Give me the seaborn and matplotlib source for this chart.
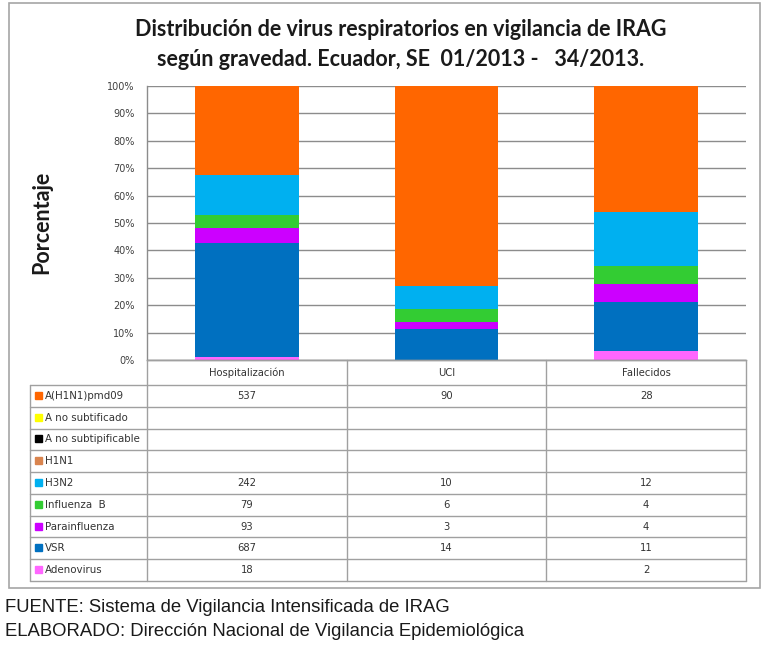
import numpy as np
import pandas as pd
import matplotlib
matplotlib.use("Agg")
import matplotlib.pyplot as plt
import seaborn as sns
from matplotlib.patches import Rectangle

categories = ['Hospitalización', 'UCI', 'Fallecidos']
virus = ['A(H1N1)pmd09', 'A no subtificado', 'A no subtipificable', 'H1N1',
         'H3N2', 'Influenza  B', 'Parainfluenza', 'VSR', 'Adenovirus']
h1n1pdm09 = [537, 90, 28]
a_no_subtificado = [None, None, None]
a_no_subtipificable = [None, None, None]
h1n1 = [None, None, None]
h3n2 = [242, 10, 12]
influenza_b = [79, 6, 4]
parainfluenza = [93, 3, 4]
vsr = [687, 14, 11]
adenovirus = [18, None, 2]
colors = ['#FF6600', '#FFFF00', '#000000', '#D9844E', '#00B0F0',
          '#33CC33', '#CC00FF', '#0070C0', '#FF66FF']

df = pd.DataFrame([h1n1pdm09, a_no_subtificado, a_no_subtipificable, h1n1, h3n2,
                   influenza_b, parainfluenza, vsr, adenovirus],
                  index=virus, columns=categories, dtype=float)
pct = df / df.sum(axis=0) * 100
# cumulative from the bottom series (Adenovirus) upwards
cum = pct.fillna(0).iloc[::-1].cumsum().iloc[::-1]

sns.set_style("white")
plt.rcParams['font.family'] = ['DejaVu Sans']

W, H = 761, 663
fig = plt.figure(figsize=(W / 100, H / 100), dpi=100)

# plot area in pixel terms
px_l, px_r, px_t, px_b = 147, 746, 86, 360
ax = fig.add_axes([px_l / W, 1 - px_b / H, (px_r - px_l) / W, (px_b - px_t) / H])

# draw the tallest cumulative layer first so lower ones sit on top
for v, c in zip(virus, colors):
    sns.barplot(x=categories, y=cum.loc[v].values, order=categories, color=c,
                saturation=1, width=0.52, linewidth=0, ax=ax)

ax.set_xlim(-0.5, 2.5)
ax.set_ylim(0, 100)
ax.set_yticks(np.arange(0, 101, 10))
ax.set_yticklabels([f"{t}%" for t in range(0, 101, 10)], fontsize=7, color='#404040')
ax.tick_params(axis='y', length=0, pad=9)
ax.tick_params(axis='x', bottom=False, labelbottom=False)
ax.set_xlabel('')
ax.set_ylabel('')
ax.set_axisbelow(True)
ax.yaxis.grid(True, color='#8C8C8C', lw=1)
for s in ['top', 'right']:
    ax.spines[s].set_visible(False)
for s in ['left', 'bottom']:
    ax.spines[s].set_color('#8C8C8C')
    ax.spines[s].set_linewidth(1)

# overlay for titles, table and frame
ov = fig.add_axes([0, 0, 1, 1])
ov.set_xlim(0, W)
ov.set_ylim(H, 0)
ov.axis('off')
ov.patch.set_alpha(0)

ov.add_patch(Rectangle((9, 3), 751, 585, fill=False, edgecolor='#A6A6A6', lw=1.2))

ov.text(401, 30, 'Distribución de virus respiratorios en vigilancia de IRAG',
        family='Lato', weight='bold', fontsize=15.5, ha='center', va='center', color='#1a1a1a')
ov.text(401, 60, 'según gravedad. Ecuador, SE  01/2013 -   34/2013.',
        family='Lato', weight='bold', fontsize=15.5, ha='center', va='center', color='#1a1a1a')
ov.text(42, 222, 'Porcentaje', family='Lato', weight='bold', fontsize=15.5,
        rotation=90, ha='center', va='center', color='#1a1a1a')

# data table
lc = '#A0A0A0'
col_w = (px_r - px_l) / len(categories)
col_x = [px_l + i * col_w for i in range(len(categories) + 1)]
lab_x0 = 30
top, head_b, bot = px_b, 385, 581
row_h = (bot - head_b) / len(virus)

ov.plot([col_x[0], col_x[-1]], [top, top], color=lc, lw=1)
for i in range(len(virus) + 1):
    y = head_b + i * row_h
    ov.plot([lab_x0, col_x[-1]], [y, y], color=lc, lw=1)
for x in col_x:
    ov.plot([x, x], [top, bot], color=lc, lw=1)
ov.plot([lab_x0, lab_x0], [head_b, bot], color=lc, lw=1)

for j, cat in enumerate(categories):
    xc = (col_x[j] + col_x[j + 1]) / 2
    ov.text(xc, (top + head_b) / 2, cat, fontsize=7.2, ha='center', va='center', color='#333333')
    for i, v in enumerate(virus):
        val = df.loc[v, cat]
        if not np.isnan(val):
            ov.text(xc, head_b + (i + 0.5) * row_h, f"{int(val)}", fontsize=7.2,
                    ha='center', va='center', color='#333333')

for i, (v, c) in enumerate(zip(virus, colors)):
    yc = head_b + (i + 0.5) * row_h
    ov.add_patch(Rectangle((35, yc - 4), 7, 7, color=c))
    ov.text(45, yc, v, fontsize=7.4, ha='left', va='center', color='#333333')

# footer
ov.text(5, 607, 'FUENTE: Sistema de Vigilancia Intensificada de IRAG',
        family='Liberation Sans', fontsize=13.3, ha='left', va='center', color='#1a1a1a')
ov.text(5, 632, 'ELABORADO: Dirección Nacional de Vigilancia Epidemiológica',
        family='Liberation Sans', fontsize=13.3, ha='left', va='center', color='#1a1a1a')

fig.savefig('out.png', dpi=100)
